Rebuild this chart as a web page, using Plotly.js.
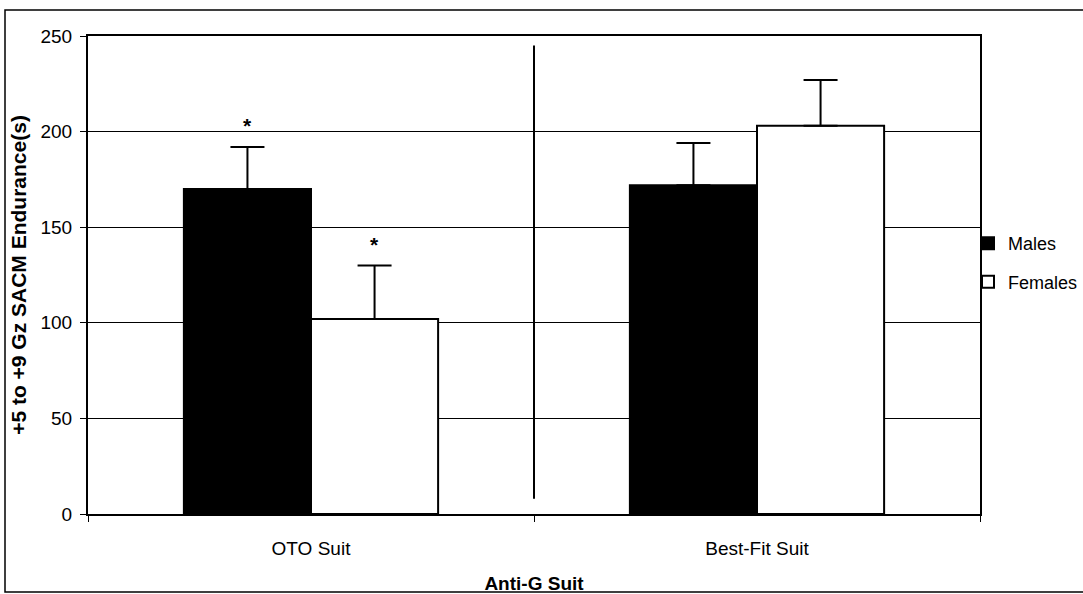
<!DOCTYPE html>
<html>
<head>
<meta charset="utf-8">
<script src="https://cdn.plot.ly/plotly-3.0.1.min.js"></script>
<style>html,body{margin:0;padding:0;background:#fff;}#chart{width:1083px;height:594px;}</style>
</head>
<body>
<div id="chart"></div>
<script>
// ---- data ----
const categories = ['OTO Suit', 'Best-Fit Suit'];
const seriesNames = ['Males', 'Females'];
const males = [170, 172];
const females = [102, 203];
const malesErr = [22, 22];
const femalesErr = [28, 24];
const malesSig = ['*', ''];
const femalesSig = ['*', ''];
const yTicks = [0, 50, 100, 150, 200, 250];

const FONT = 'Liberation Sans, Arial, sans-serif';
const W = 1083, H = 594;
const M = {l: 88, r: 103, t: 36, b: 80, autoexpand: false};
const plotW = W - M.l - M.r;
const plotH = H - M.t - M.b;
const bargap = 0.43;
const catW = plotW / categories.length;
const barW = catW * (1 - bargap) / 2;

const traces = [
  {
    type: 'bar', name: seriesNames[0], x: categories, y: males,
    marker: {color: '#000', line: {color: '#000', width: 2}},
    error_y: {type: 'data', symmetric: false, array: malesErr, arrayminus: [0, 0],
              color: '#000', thickness: 2, width: 17},
    legendgroup: 'm', hoverinfo: 'x+y'
  },
  {
    type: 'bar', name: seriesNames[1], x: categories, y: females,
    marker: {color: '#fff', line: {color: '#000', width: 2}},
    error_y: {type: 'data', symmetric: false, array: femalesErr, arrayminus: [0, 0],
              color: '#000', thickness: 2, width: 17},
    legendgroup: 'f', hoverinfo: 'x+y'
  }
];

const starFont = {family: FONT, size: 21, color: '#000'};
const annotations = [];
categories.forEach((c, i) => {
  if (malesSig[i]) annotations.push({x: c, y: males[i] + malesErr[i] + 11, yanchor: 'middle',
    xshift: -barW / 2, text: '<b>' + malesSig[i] + '</b>', showarrow: false, font: starFont});
  if (femalesSig[i]) annotations.push({x: c, y: females[i] + femalesErr[i] + 11, yanchor: 'middle',
    xshift: barW / 2, text: '<b>' + femalesSig[i] + '</b>', showarrow: false, font: starFont});
});

const layout = {
  width: W, height: H,
  margin: M,
  paper_bgcolor: '#fff', plot_bgcolor: '#fff',
  font: {family: FONT, color: '#000', size: 19},
  barmode: 'group', bargap: bargap, bargroupgap: 0,
  showlegend: true,
  legend: {x: (968 - M.l) / plotW, xanchor: 'left', y: 0.526, yanchor: 'middle',
           font: {family: FONT, size: 18, color: '#000'},
           traceorder: 'grouped', tracegroupgap: 12, bgcolor: 'rgba(0,0,0,0)'},
  xaxis: {
    type: 'category', range: [-0.5, categories.length - 0.5],
    showline: true, linecolor: '#000', linewidth: 2, mirror: true,
    ticks: 'outside', tickson: 'boundaries', ticklen: 6, tickwidth: 1, tickcolor: '#000',
    ticklabelstandoff: 16,
    tickfont: {family: FONT, size: 19, color: '#000'},
    showgrid: false, zeroline: false,
    title: {text: '<b>Anti-G Suit</b>', font: {family: FONT, size: 19, color: '#000'}, standoff: 24}
  },
  yaxis: {
    range: [0, 250], tickvals: yTicks, ticktext: yTicks.map(String),
    showline: true, linecolor: '#000', linewidth: 2, mirror: true,
    ticks: 'outside', ticklen: 6, tickwidth: 1, tickcolor: '#000',
    ticklabelstandoff: 4,
    tickfont: {family: FONT, size: 19, color: '#000'},
    showgrid: true, gridcolor: '#000', gridwidth: 1, zeroline: false,
    title: {text: '<b>+5 to +9 Gz SACM Endurance(s)</b>', font: {family: FONT, size: 21, color: '#000'}, standoff: 8}
  },
  shapes: [
    // category divider
    {type: 'line', xref: 'x', yref: 'y', x0: 0.5, x1: 0.5, y0: 8, y1: 245,
     line: {color: '#000', width: 2}, layer: 'above'},
    // chart-area border
    {type: 'rect', xref: 'paper', yref: 'paper',
     x0: (5 - M.l) / plotW, x1: (W + 5 - M.l) / plotW,
     y0: (plotH + M.t - 592) / plotH, y1: (plotH + M.t - 10) / plotH,
     line: {color: '#000', width: 1.5}, layer: 'below'}
  ],
  annotations: annotations
};

Plotly.newPlot('chart', traces, layout, {displayModeBar: false, staticPlot: true});
</script>
</body>
</html>
